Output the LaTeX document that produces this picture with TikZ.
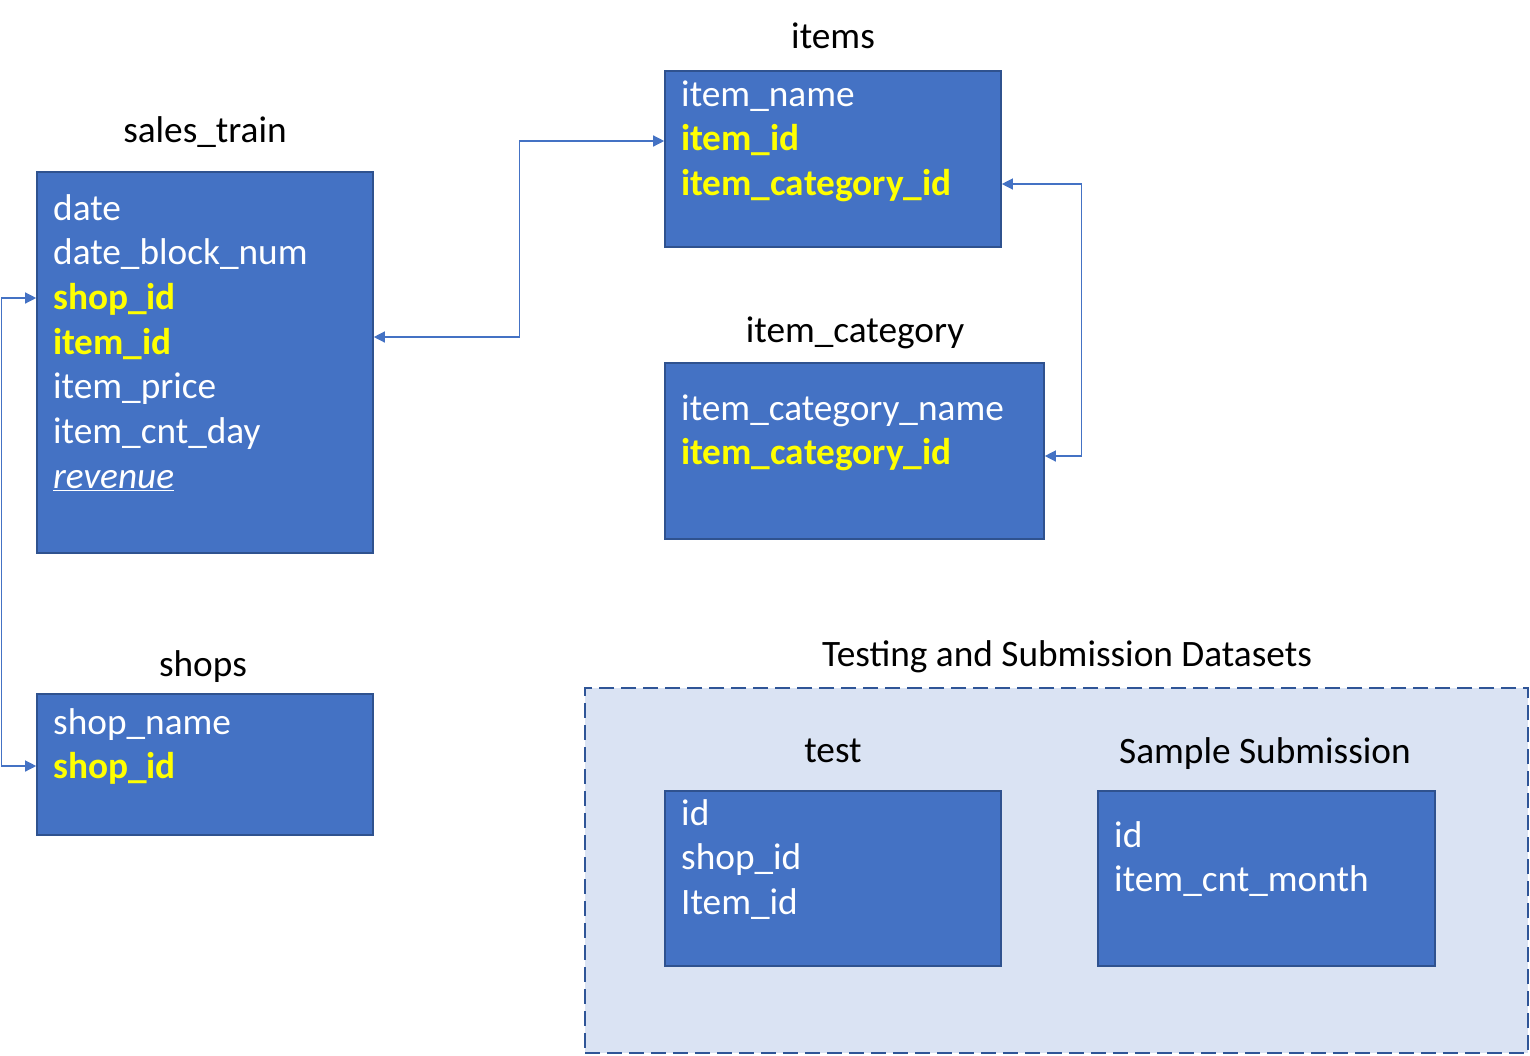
\documentclass[tikz,border=0pt]{standalone}
\usepackage{fontspec}
\setmainfont{Carlito}
\usetikzlibrary{arrows.meta}
\definecolor{boxfill}{HTML}{4472C4}
\definecolor{boxline}{HTML}{2F528F}
\definecolor{areafill}{HTML}{DAE3F3}
\definecolor{arealine}{HTML}{2F5597}
\definecolor{keyyellow}{HTML}{FFFF00}
\definecolor{linkcol}{HTML}{4472C4}
\begin{document}
\begin{tikzpicture}[x=1pt,y=-1pt,
  tbl/.style={draw=boxline, fill=boxfill, line width=1.6pt, inner sep=0pt},
  fld/.style={anchor=base west, inner sep=0pt, text=white, font=\fontsize{37.3}{44.7}\selectfont},
  keyfld/.style={fld, text=keyyellow, font=\fontsize{37.3}{44.7}\selectfont\bfseries},
  ttl/.style={anchor=base, inner sep=0pt, text=black, font=\fontsize{37.3}{44.7}\selectfont},
  link/.style={draw=linkcol, line width=1.3pt, {Triangle[length=11pt,width=11pt]}-{Triangle[length=11pt,width=11pt]}},
  area/.style={draw=arealine, fill=areafill, line width=2pt, dash pattern=on 15pt off 7pt, inner sep=0pt}
]
\useasboundingbox (0,0) rectangle (1530,1055);

% dashed area
\node[area, minimum width=943pt, minimum height=365pt] (area) at (1056.5,870.5) {};
\node[ttl] (areaT) at (1067,666) {Testing and Submission Datasets};

% sales_train
\node[tbl, minimum width=336pt, minimum height=381pt] (st) at (205,362.5) {};
\node[ttl] (stT) at (205,142) {sales\_train};
\node[fld] (st1) at (53,220) {date};
\node[fld] (st2) at (53,264.7) {date\_block\_num};
\node[keyfld] (st3) at (53,309.4) {shop\_id};
\node[keyfld] (st4) at (53,354.1) {item\_id};
\node[fld] (st5) at (53,398.8) {item\_price};
\node[fld] (st6) at (53,443.5) {item\_cnt\_day};
\node[fld] (st7) at (53,488.2) {\itshape\underline{revenue}};

% items
\node[tbl, minimum width=336pt, minimum height=176pt] (it) at (833,159) {};
\node[ttl] (itT) at (833,48) {items};
\node[fld] (it1) at (681,106) {item\_name};
\node[keyfld] (it2) at (681,150.7) {item\_id};
\node[keyfld] (it3) at (681,195.4) {item\_category\_id};

% item_category
\node[tbl, minimum width=379pt, minimum height=176pt] (ic) at (854.5,451) {};
\node[ttl] (icT) at (855,342) {item\_category};
\node[fld] (ic1) at (681,420) {item\_category\_name};
\node[keyfld] (ic2) at (681,464.7) {item\_category\_id};

% shops
\node[tbl, minimum width=336pt, minimum height=141pt] (sh) at (205,764.5) {};
\node[ttl] (shT) at (203,676) {shops};
\node[fld] (sh1) at (53,734) {shop\_name};
\node[keyfld] (sh2) at (53,778.7) {shop\_id};

% test
\node[tbl, minimum width=336pt, minimum height=175pt] (te) at (833,878.5) {};
\node[ttl] (teT) at (833,762) {test};
\node[fld] (te1) at (681,825) {id};
\node[fld] (te2) at (681,869.7) {shop\_id};
\node[fld] (te3) at (681,914.4) {Item\_id};

% sample submission
\node[tbl, minimum width=337pt, minimum height=175pt] (ss) at (1266.5,878.5) {};
\node[ttl] (ssT) at (1265,763) {Sample Submission};
\node[fld] (ss1) at (1114,847) {id};
\node[fld] (ss2) at (1114,891.7) {item\_cnt\_month};

% connectors
\draw[link] ([yshift=25.5pt]st.east) -- ++(146,0) |- ([yshift=18pt]it.west);
\draw[link] ([yshift=-25pt]it.east) -- ++(80,0) |- ([yshift=-5pt]ic.east);
\draw[link] ([yshift=64.5pt]st.west) -- ++(-35,0) |- ([yshift=-1.5pt]sh.west);
\end{tikzpicture}
\end{document}
